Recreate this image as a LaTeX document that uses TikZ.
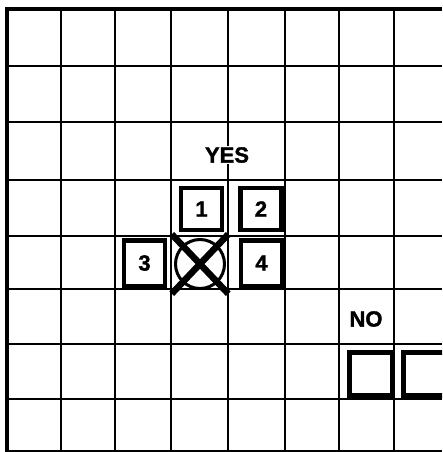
\documentclass[tikz,border=0pt]{standalone}
\usepackage{fontspec}
\setmainfont{Liberation Sans}[BoldFeatures={FakeBold=1.6}]
\usetikzlibrary{shapes, positioning}

\tikzset{
  tile/.style={draw, line width=4.5pt, minimum width=41pt, minimum height=42pt,
    inner sep=0pt, font=\fontsize{22}{22}\selectfont\bfseries},
  emptytile/.style={draw, line width=5pt, minimum width=43pt, minimum height=43pt, inner sep=0pt},
  tag/.style={font=\fontsize{22}{22}\selectfont\bfseries, fill=white, inner sep=1.5pt}
}

\begin{document}
\begin{tikzpicture}[x=1pt, y=-1pt]
  \clip (0,0) rectangle (442,452);
  % grid
  \foreach \x in {61,115,171,228,285,339,394} {
    \draw[line width=1.1pt] (\x,9) -- (\x,452);
  }
  \foreach \y in {66,122,180,236,289,344,399,451} {
    \draw[line width=1.1pt] (7,\y) -- (442,\y);
  }
  \draw[line width=4pt] (7,452) -- (7,9) -- (442,9);

  % yes group
  \node[tag] (yes) at (227,155) {YES};
  \node[tile] (one) at (201.5,209) {1};
  \node[tile] (two) at (261,209) {2};
  \node[tile, minimum height=45.5pt] (three) at (144.5,263) {3};
  \node[tile, minimum height=45.5pt] (four) at (261.5,263) {4};
  \node[circle, draw, line width=3pt, minimum size=49pt, inner sep=0pt] (ring) at (200,264) {};
  \node[cross out, draw, line width=6.5pt, minimum width=50pt, minimum height=53pt, inner sep=0pt] (xmark) at (200,264) {};

  % no group
  \node[tag] (no) at (366,319) {NO};
  \node[emptytile] (left) at (371,374) {};
  \node[emptytile] (right) at (425,374) {};
\end{tikzpicture}
\end{document}
